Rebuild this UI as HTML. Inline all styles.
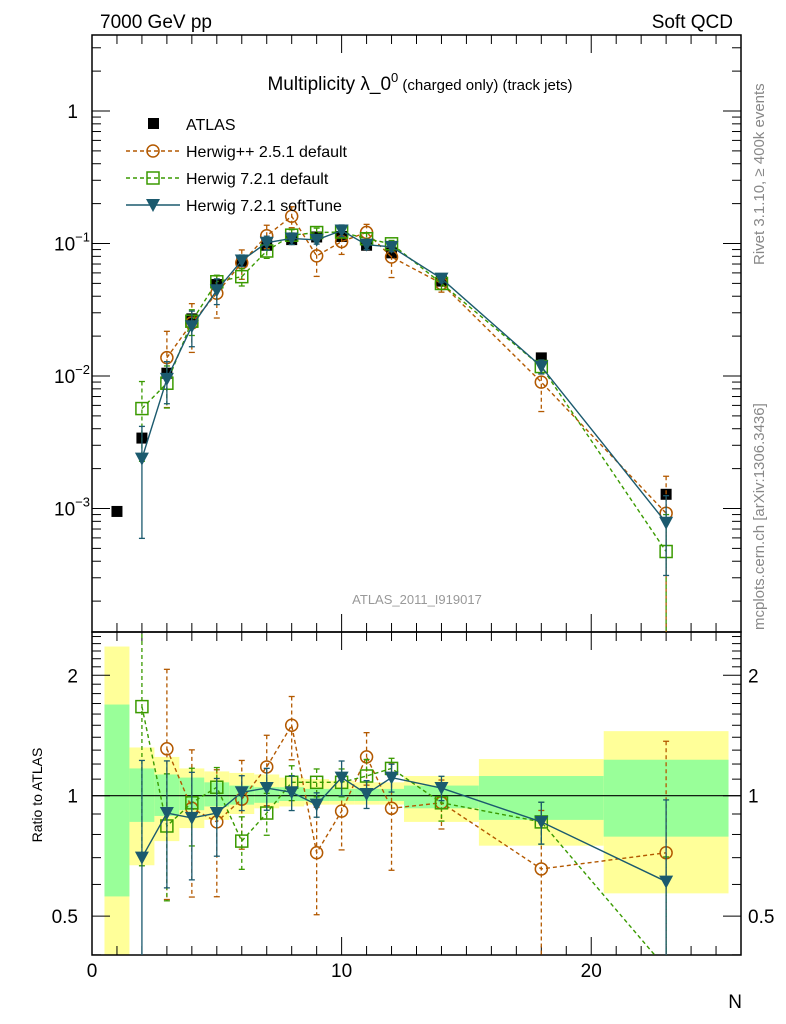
<!DOCTYPE html>
<html><head><meta charset="utf-8">
<style>
html,body{margin:0;padding:0;background:#fff;width:786px;height:1024px;overflow:hidden;}
svg{display:block;font-family:"Liberation Sans",sans-serif;}
</style></head>
<body>
<svg id="chart" width="786" height="1024" viewBox="0 0 786 1024" xmlns="http://www.w3.org/2000/svg">
<defs>
<clipPath id="clipMain"><rect x="92" y="35" width="649" height="597"/></clipPath>
<clipPath id="clipRatio"><rect x="92" y="632" width="649" height="323"/></clipPath>
</defs>
<text x="100" y="28" font-size="19">7000 GeV pp</text>
<text x="733" y="28" font-size="19" text-anchor="end">Soft QCD</text>
<text x="420" y="90" font-size="19" text-anchor="middle">Multiplicity λ_0<tspan font-size="13" dy="-8">0</tspan><tspan font-size="15" dy="8"> (charged only) (track jets)</tspan></text>
<text transform="translate(764,265) rotate(-90)" font-size="15" fill="#888">Rivet 3.1.10, ≥ 400k events</text>
<text transform="translate(764,630) rotate(-90)" font-size="15" fill="#888">mcplots.cern.ch [arXiv:1306.3436]</text>
<text x="417" y="604" font-size="13" fill="#999" text-anchor="middle">ATLAS_2011_I919017</text>
<text transform="translate(42,795) rotate(-90)" font-size="14" text-anchor="middle">Ratio to ATLAS</text>
<text x="742" y="1008" font-size="19" text-anchor="end">N</text>
<g id="bands"></g><g id="axes"></g>
<g id="seriesMain" clip-path="url(#clipMain)"></g>
<g id="seriesRatio" clip-path="url(#clipRatio)"></g>
<g id="legend"></g>
</svg>
<script>
const xs = [1,2,3,4,5,6,7,8,9,10,11,12,14,18,23];
const binLo = [0.5,1.5,2.5,3.5,4.5,5.5,6.5,7.5,8.5,9.5,10.5,11.5,12.5,15.5,20.5];
const binHi = [1.5,2.5,3.5,4.5,5.5,6.5,7.5,8.5,9.5,10.5,11.5,12.5,15.5,20.5,25.5];
const atlas = [9.5e-4,3.4e-3,0.0105,0.027,0.049,0.073,0.097,0.107,0.112,0.113,0.097,0.085,0.052,0.0137,0.00128];
const yelUp = [2.36,1.32,1.25,1.17,1.15,1.14,1.13,1.11,1.1,1.09,1.08,1.08,1.12,1.235,1.45];
const yelDn = [0.3,0.67,0.77,0.83,0.87,0.9,0.93,0.94,0.95,0.95,0.95,0.95,0.86,0.75,0.57];
const grnUp = [1.69,1.17,1.13,1.11,1.08,1.06,1.05,1.05,1.04,1.04,1.04,1.04,1.06,1.12,1.23];
const grnDn = [0.56,0.86,0.89,0.92,0.94,0.95,0.96,0.97,0.97,0.97,0.97,0.97,0.93,0.87,0.79];
const ratioHpp = [null,null,1.31,0.93,0.86,0.98,1.18,1.50,0.72,0.915,1.25,0.93,0.96,0.656,0.72];
const errHpp = [0,0,0.58,0.4,0.35,0.25,0.2,0.18,0.3,0.2,0.15,0.3,0.14,0.4,0.9];
const ratioH7 = [null,1.67,0.84,0.96,1.05,0.77,0.905,1.08,1.08,1.08,1.12,1.17,0.96,0.86,0.37];
const errH7 = [0,0.6,0.35,0.22,0.12,0.15,0.12,0.1,0.08,0.08,0.1,0.06,0.1,0.12,0.9];
const ratioST = [null,0.70,0.905,0.88,0.905,1.02,1.045,1.02,0.95,1.11,1.01,1.11,1.045,0.86,0.61];
const errST = [0,0.75,0.35,0.3,0.22,0.1,0.12,0.1,0.07,0.1,0.08,0.08,0.07,0.12,0.6];
const mainTicks = [1,0.1,0.01,0.001];
const mainTickLabels = ["1","10","10","10"];
const mainTickExp = ["","−1","−2","−3"];
const ratioTicks = [0.5,1,2];
const ratioTickLabels = ["0.5","1","2"];
const xTicks = [0,10,20];

const L=92,R=741,T=35,MB=632,RB=955;
const sx=v=>L+(v/26)*(R-L);
const sy=v=>111-(Math.log10(v))*132.5;
const ry=v=>795.7-Math.log10(v)*400;
const NS="http://www.w3.org/2000/svg";
function mk(tag,attrs,parent){const e=document.createElementNS(NS,tag);for(const k in attrs)e.setAttribute(k,attrs[k]);parent.appendChild(e);return e;}
const gB=document.getElementById('bands'),gA=document.getElementById('axes'),gM=document.getElementById('seriesMain'),gR=document.getElementById('seriesRatio'),gL=document.getElementById('legend');
const clampR=v=>Math.max(632,Math.min(955,v));
xs.forEach((x,i)=>{
  let y1=clampR(ry(yelUp[i])),y2=clampR(ry(yelDn[i]));
  let r=mk('rect',{x:sx(binLo[i]),y:y1,width:sx(binHi[i])-sx(binLo[i]),height:y2-y1,fill:'#ffff99'},gB);
  
  
  y1=clampR(ry(grnUp[i]));y2=clampR(ry(grnDn[i]));
  r=mk('rect',{x:sx(binLo[i]),y:y1,width:sx(binHi[i])-sx(binLo[i]),height:y2-y1,fill:'#99ff99'},gB);
  
  
});
let f=mk('rect',{x:L,y:T,width:R-L,height:MB-T,fill:'none',stroke:'#000','stroke-width':1.5},gA);


f=mk('rect',{x:L,y:MB,width:R-L,height:RB-MB,fill:'none',stroke:'#000','stroke-width':1.5},gA);


let one=mk('line',{x1:L,x2:R,y1:ry(1),y2:ry(1),stroke:'#000','stroke-width':1.2},gA);


for(let d=-4;d<=0;d++){for(let m=1;m<10;m++){const v=m*Math.pow(10,d);const y=sy(v);if(y<T||y>MB)continue;const len=m==1?18:9;
 mk('line',{x1:L,x2:L+len,y1:y,y2:y,stroke:'#000'},gA);mk('line',{x1:R,x2:R-len,y1:y,y2:y,stroke:'#000'},gA);}}
mainTicks.forEach((v,i)=>{const t=mk('text',{x:78,y:sy(v)+7,'font-size':19,'text-anchor':'end'},gA);t.textContent=mainTickLabels[i];
 if(mainTickExp[i]){const s=mk('tspan',{'font-size':13,dy:-9},t);s.textContent=mainTickExp[i];t.setAttribute('x',90);}
 
 });
for(let v=0.4;v<=2.6;v+=0.1){const y=ry(v);if(y<MB||y>RB)continue;const major=[0.5,1,2].some(m=>Math.abs(m-v)<1e-6);const len=major?18:9;
 mk('line',{x1:L,x2:L+len,y1:y,y2:y,stroke:'#000'},gA);mk('line',{x1:R,x2:R-len,y1:y,y2:y,stroke:'#000'},gA);}
ratioTicks.forEach((v,i)=>{let t=mk('text',{x:78,y:ry(v)+7,'font-size':19,'text-anchor':'end'},gA);t.textContent=ratioTickLabels[i];
 
 
 t=mk('text',{x:748,y:ry(v)+7,'font-size':19},gA);t.textContent=ratioTickLabels[i];
 
 });
for(let v=0;v<=26;v++){const x=sx(v);const len=v%10==0?18:9;
 mk('line',{x1:x,x2:x,y1:T,y2:T+len,stroke:'#000'},gA);
 mk('line',{x1:x,x2:x,y1:MB,y2:MB-len,stroke:'#000'},gA);
 mk('line',{x1:x,x2:x,y1:MB,y2:MB+len,stroke:'#000'},gA);
 mk('line',{x1:x,x2:x,y1:RB,y2:RB-len,stroke:'#000'},gA);}
xTicks.forEach(v=>{const t=mk('text',{x:sx(v),y:977,'font-size':19,'text-anchor':'middle'},gA);t.textContent=v;
 
 });
const series=[
 {r:ratioHpp,e:errHpp,c:'#b35900',dash:'4,3',m:'circle',name:'herwigpp-251'},
 {r:ratioH7,e:errH7,c:'#3a9a00',dash:'4,3',m:'square',name:'herwig-721-default'},
 {r:ratioST,e:errST,c:'#1b5a6e',dash:'',m:'tri',name:'herwig-721-softtune'}];
function marker(m,x,y,c,p){if(m=='circle')return mk('circle',{cx:x,cy:y,r:6,fill:'none',stroke:c,'stroke-width':1.5},p);
 if(m=='square')return mk('rect',{x:x-6,y:y-6,width:12,height:12,fill:'none',stroke:c,'stroke-width':1.5},p);
 return mk('path',{d:`M${x-7},${y-6}L${x+7},${y-6}L${x},${y+7}Z`,fill:c},p);}
function drawPanel(yf,vals,clipTop,clipBot,s,g){
 const pts=[];xs.forEach((x,i)=>{if(vals[i]==null)return;pts.push([sx(x),yf(vals[i]),i]);});
 const pl=mk('polyline',{points:pts.map(p=>p[0]+','+p[1]).join(' '),fill:'none',stroke:s.c,'stroke-width':1.4,'stroke-dasharray':s.dash},g);
 
 
 pts.forEach(([x,y,i])=>{const v=vals[i];const e=s.e[i];let yu=yf(v*(1+e)),yd=e>=1?clipBot+5:yf(v*(1-e));
  yu=Math.max(clipTop-5,yu);yd=Math.min(clipBot+5,yd);
  mk('line',{x1:x,x2:x,y1:yu,y2:yd,stroke:s.c,'stroke-width':1.3,'stroke-dasharray':s.dash},g);
  mk('line',{x1:x-3,x2:x+3,y1:yu,y2:yu,stroke:s.c,'stroke-width':1.3},g);
  mk('line',{x1:x-3,x2:x+3,y1:yd,y2:yd,stroke:s.c,'stroke-width':1.3},g);
  const mm=marker(s.m,x,y,s.c,g);
  
  });}
xs.forEach((x,i)=>{const r=mk('rect',{x:sx(x)-5.5,y:sy(atlas[i])-5.5,width:11,height:11,fill:'#000'},gM);
 
 });
series.forEach(s=>{
 const mv=s.r.map((r,i)=>r==null?null:r*atlas[i]);
 drawPanel(sy,mv,T,MB,s,gM);
 drawPanel(ry,s.r,MB,RB,s,gR);});
const leg=[['ATLAS','atlas'],['Herwig++ 2.5.1 default',0],['Herwig 7.2.1 default',1],['Herwig 7.2.1 softTune',2]];
leg.forEach((l,k)=>{const y=124+k*27;const g=mk('g',{},gL);
 
 
 if(l[1]==='atlas'){mk('rect',{x:148,y:y-6,width:11,height:11,fill:'#000'},g);}
 else{const s=series[l[1]];mk('line',{x1:126,x2:180,y1:y,y2:y,stroke:s.c,'stroke-width':1.4,'stroke-dasharray':s.dash},g);marker(s.m,153,y,s.c,g);}
 const t=mk('text',{x:186,y:y+6,'font-size':16},g);t.textContent=l[0];});
</script>
</body></html>
